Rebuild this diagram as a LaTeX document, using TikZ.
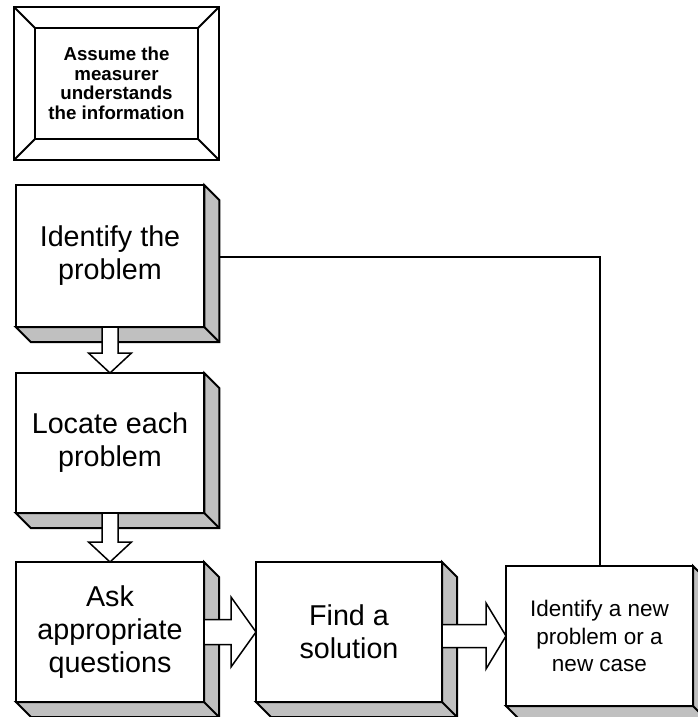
\documentclass[tikz,border=0pt]{standalone}
\usepackage{fontspec}
\setmainfont{Liberation Sans}
\usetikzlibrary{calc}
\definecolor{sidegray}{HTML}{C0C0C0}
\tikzset{
  stepbox/.style={draw, line width=2.2pt, fill=white, rectangle, inner sep=0pt, outer sep=0pt, align=center,
    font=\fontsize{28.7}{33}\selectfont},
  sideface/.style={draw, line width=2pt, fill=sidegray, line join=miter},
  blockarrow/.style={draw, line width=1.5pt, fill=white, line join=miter},
  framebox/.style={draw, line width=2.2pt, fill=white, rectangle, inner sep=0pt, outer sep=0pt},
  link/.style={draw, line width=2pt},
}
\begin{document}
\begin{tikzpicture}[x=1pt, y=-1pt]
\useasboundingbox (0,0) rectangle (698,717);
\clip (0,0) rectangle (698,717);

% bevelled frame with the assumption
\node[framebox, minimum width=205pt, minimum height=153pt] (frame) at (116.5,83.5) {};
\node[framebox, align=center, minimum width=163pt, minimum height=111pt,
      font=\bfseries\fontsize{18.7}{19.6}\selectfont] (assume) at (116.5,83.5)
  {Assume the\\measurer\\understands\\the information};
\foreach \c in {north west, north east, south east, south west}
  \draw[line width=2pt] (frame.\c) -- (assume.\c);

% process steps
\node[stepbox, minimum width=188.5pt, minimum height=142pt] (b1) at (110,256) {Identify the\\problem};
\node[stepbox, minimum width=188.5pt, minimum height=140pt] (b2) at (110,443) {Locate each\\problem};
\node[stepbox, minimum width=188pt, minimum height=140pt] (b3) at (110,632) {Ask\\appropriate\\questions};
\node[stepbox, minimum width=186pt, minimum height=140pt] (b4) at (349,632) {Find a\\solution};
\node[stepbox, minimum width=187pt, minimum height=140pt, font=\fontsize{22.5}{27.6}\selectfont]
  (b5) at (599.5,636) {Identify a new\\problem or a\\new case};

% extruded sides of the step boxes
\def\dep{15}
\foreach \n in {b1,b2,b3,b4,b5}{
  \path[sideface] (\n.north east) -- ++(\dep,\dep) -- ($(\n.south east)+(\dep,\dep)$)
    -- ($(\n.south west)+(\dep,\dep)$) -- (\n.south west) -- (\n.south east) -- cycle;
  \draw[line width=2pt] (\n.south east) -- ++(\dep,\dep);
}

% block arrows between the steps
\foreach \a/\b in {b1/b2, b2/b3}{
  \path[blockarrow] ($(\a.south)+(-8,0)$) -- ($(\b.north)+(-8,-20)$) -- ($(\b.north)+(-21.5,-20)$)
    -- (\b.north) -- ($(\b.north)+(21.5,-20)$) -- ($(\b.north)+(8,-20)$) -- ($(\a.south)+(8,0)$) -- cycle;
}
\path[blockarrow] ($(b3.east)+(0,-12.5)$) -- ($(b4.west)+(-25,-12.5)$) -- ($(b4.west)+(-25,-35)$)
  -- (b4.west) -- ($(b4.west)+(-25,35)$) -- ($(b4.west)+(-25,12.5)$) -- ($(b3.east)+(0,12.5)$) -- cycle;
\coordinate (a4) at (b4.east |- b5.west);
\path[blockarrow] ($(a4)+(0,-11.5)$) -- ($(b5.west)+(-20,-11.5)$) -- ($(b5.west)+(-20,-33)$)
  -- (b5.west) -- ($(b5.west)+(-20,33)$) -- ($(b5.west)+(-20,11.5)$) -- ($(a4)+(0,11.5)$) -- cycle;

% feedback line from the new case back to the first step
\draw[link] (b5.north) |- ($(b1.east)+(\dep,1)$);
\end{tikzpicture}
\end{document}
